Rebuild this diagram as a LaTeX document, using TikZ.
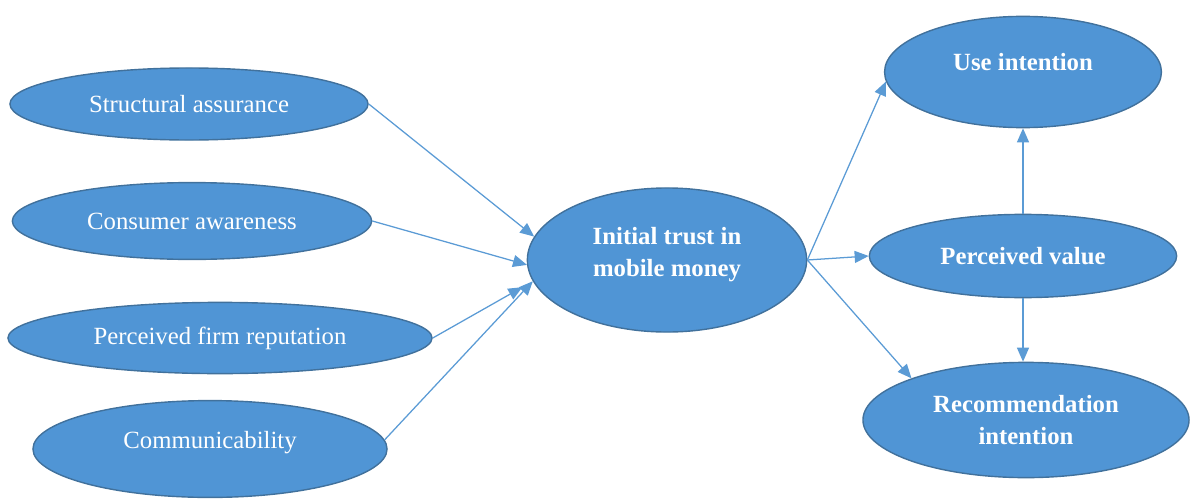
\documentclass[tikz,border=0pt]{standalone}
\usepackage{fontspec}
\setmainfont{Liberation Serif}
\usetikzlibrary{arrows.meta,positioning,shapes.geometric}
\definecolor{ovalfill}{RGB}{80,149,213}
\definecolor{ovaldraw}{RGB}{65,113,156}
\definecolor{arrowblue}{RGB}{91,155,213}

\begin{document}
\begin{tikzpicture}[
  x=0.025cm, y=-0.025cm,
  font=\fontsize{17.6}{23}\selectfont,
  oval/.style={ellipse, draw=ovaldraw, line width=1pt, fill=ovalfill, text=white, align=center, inner sep=0pt},
  boldoval/.style={oval, font=\fontsize{17.6}{23}\selectfont\bfseries},
  arrow/.style={-{Triangle[length=3.5mm,width=3mm]}, draw=arrowblue, line width=0.9pt}
]
\useasboundingbox (0,0) rectangle (1190,500);

% antecedents
\node[oval, minimum width=8.95cm, minimum height=1.8cm] (sa) at (189,104) {Structural assurance};
\node[oval, minimum width=8.98cm, minimum height=1.92cm] (ca) at (192,221) {Consumer awareness};
\node[oval, minimum width=10.6cm, minimum height=1.78cm] (pfr) at (220,338) {Perceived firm reputation};
\node[oval, minimum width=8.85cm, minimum height=2.42cm, text depth=0.45cm] (com) at (210,449) {Communicability};

% trust
\node[boldoval, minimum width=6.98cm, minimum height=3.6cm, text depth=0.4cm] (trust) at (667,260) {Initial trust in\\mobile money};

% outcomes
\node[boldoval, minimum width=6.92cm, minimum height=2.78cm, text depth=0.5cm] (ui) at (1023,72) {Use intention};
\node[boldoval, minimum width=7.68cm, minimum height=2.08cm] (pv) at (1023,256) {Perceived value};
\node[boldoval, minimum width=8.15cm, minimum height=2.88cm] (ri) at (1026,420) {Recommendation\\intention};

\draw[arrow] (sa.east) -- (trust.170);
\draw[arrow] (ca.east) -- (trust.182);
\draw[arrow, shorten >=0.3cm] (pfr.east) -- (trust.189);
\draw[arrow] (com.3) -- (trust.189);

\draw[arrow] (trust.east) -- (ui.184);
\draw[arrow] (trust.east) -- (pv.west);
\draw[arrow] (trust.east) -- (ri.160);
\draw[arrow] (pv.north) -- (ui.south);
\draw[arrow] (pv.south) -- (ri.north -| pv.south);

\end{tikzpicture}
\end{document}
